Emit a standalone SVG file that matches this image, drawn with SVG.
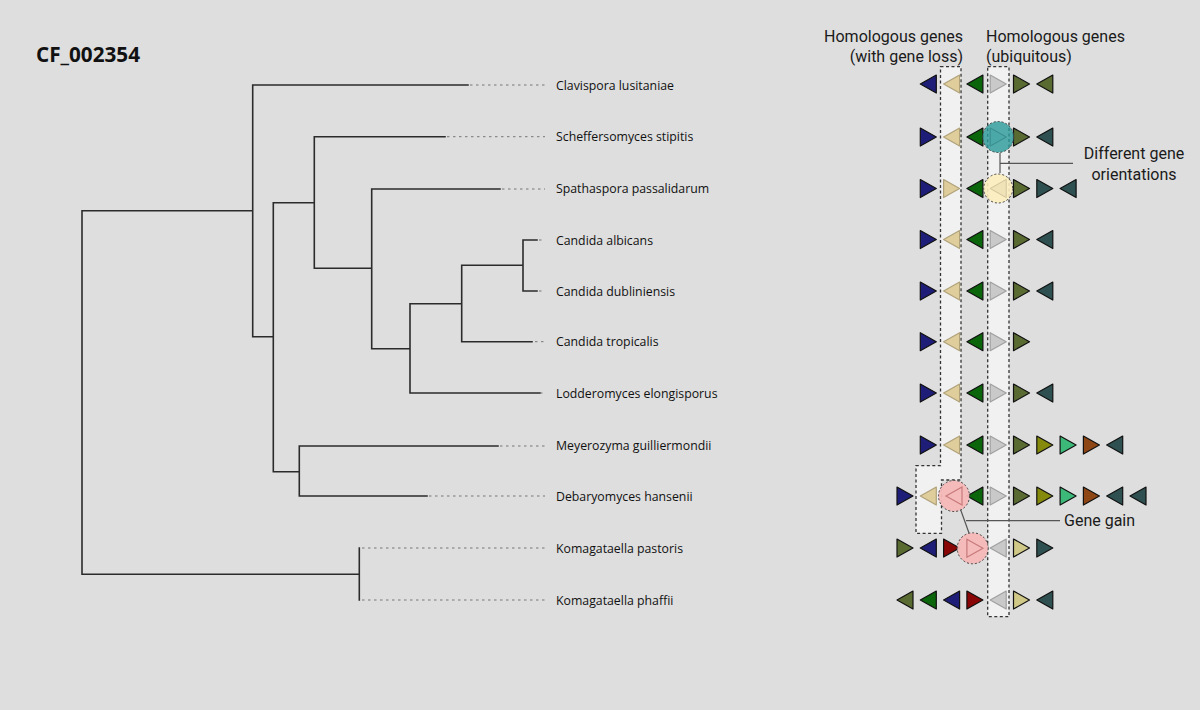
<svg xmlns="http://www.w3.org/2000/svg" width="1200" height="710" viewBox="0 0 1200 710">
<style>
.tree{fill:none;stroke:#2b2b2b;stroke-width:1.6;stroke-linecap:square}
.dot{fill:none;stroke:#777;stroke-width:1;stroke-dasharray:2.5 3.5}
.sp{font-family:"Open Sans","Noto Sans",sans-serif;font-size:12.3px;fill:#111}
.hd{font-family:Roboto,"Liberation Sans",sans-serif;font-size:16px;fill:#1a1a1a}
.t{stroke:#111;stroke-width:1.2;stroke-linejoin:round}
.bl{fill:#1e1e78}.tn{fill:#dfcd9c;stroke:#b0a27a}.gr{fill:#0b650b}.gy{fill:#c9c9c9;stroke:#a0a0a0}
.ol{fill:#5a6b32}.ds{fill:#2f5050}.yo{fill:#868a0c}.sg{fill:#3cb878}.br{fill:#8e4614}.dr{fill:#8a0505}.kh{fill:#cfc886}
.box{fill:#f1f1f1;stroke:#333;stroke-width:1.3;stroke-dasharray:3 2.5}
.circ{stroke:#444;stroke-width:1;stroke-dasharray:2 2}
.ann{fill:none;stroke:#555;stroke-width:1.2}
</style>
<defs>
<path id="R" d="M-8,-9 L8,0 L-8,9 Z"/>
<path id="L" d="M8,-9 L-8,0 L8,9 Z"/>
</defs>
<rect width="1200" height="710" fill="#dedede"/>
<text x="36" y="61.5" font-family="'Open Sans','Noto Sans',sans-serif" font-weight="bold" font-size="20.7" fill="#111">CF_002354</text>

<g id="connectors">
<path class="tree" d="M82,210.7 H252.7 M82,210.7 V574.3 H359.3 M252.7,85 V336.7 M252.7,85 H468 M252.7,336.7 H273.3 M273.3,202.7 V471.7 M273.3,202.7 H314.3 M273.3,471.7 H299.3 M314.3,136.7 V268.3 M314.3,136.7 H445 M314.3,268.3 H371.7 M371.7,189 V348.7 M371.7,189 H500 M371.7,348.7 H410 M410,303.7 V393 M410,303.7 H461.7 M410,393 H540 M461.7,265.3 V341.7 M461.7,265.3 H523 M461.7,341.7 H532 M523,240 V291 M523,240 H537 M523,291 H537 M299.3,446 V496 M299.3,446 H498 M299.3,496 H427 M359.3,548 V600"/>
<path class="dot" d="M470,85 H545 M447,136.7 H545 M502,189 H545 M539,240 H545 M539,291 H545 M535,341.7 H545 M540,393 H545 M500,446 H545 M429,496 H545 M362,548 H545 M362,600 H545"/>
</g>

<g id="labels">
<text class="sp" x="556" y="89.5">Clavispora lusitaniae</text>
<text class="sp" x="556" y="141">Scheffersomyces stipitis</text>
<text class="sp" x="556" y="193">Spathaspora passalidarum</text>
<text class="sp" x="556" y="244.5">Candida albicans</text>
<text class="sp" x="556" y="295.5">Candida dubliniensis</text>
<text class="sp" x="556" y="346">Candida tropicalis</text>
<text class="sp" x="556" y="397.5">Lodderomyces elongisporus</text>
<text class="sp" x="556" y="450">Meyerozyma guilliermondii</text>
<text class="sp" x="556" y="500.5">Debaryomyces hansenii</text>
<text class="sp" x="556" y="552.5">Komagataella pastoris</text>
<text class="sp" x="556" y="604.5">Komagataella phaffii</text>
</g>

<g id="headers">
<text class="hd" x="963" y="42" text-anchor="end">Homologous genes</text>
<text class="hd" x="963" y="61.5" text-anchor="end">(with gene loss)</text>
<text class="hd" x="986" y="42">Homologous genes</text>
<text class="hd" x="986" y="61.5">(ubiquitous)</text>
</g>

<g id="boxes">
<path class="box" d="M940.5,66.7 H961 V480 H941.5 V533.3 H916 V465.7 H940.5 Z"/>
<rect class="box" x="987.7" y="66.7" width="21.3" height="550"/>
</g>

<g id="row-clavispora">
<use href="#L" x="928.3" y="84" class="t bl"/><use href="#L" x="951.6" y="84" class="t tn"/><use href="#L" x="974.9" y="84" class="t gr"/><use href="#R" x="998.2" y="84" class="t gy"/><use href="#R" x="1021.5" y="84" class="t ol"/><use href="#L" x="1044.8" y="84" class="t ol"/>
</g>
<g id="row-scheffersomyces">
<use href="#R" x="928.3" y="137" class="t bl"/><use href="#L" x="951.6" y="137" class="t tn"/><use href="#L" x="974.9" y="137" class="t gr"/><use href="#R" x="998.2" y="137" class="t gy"/><use href="#R" x="1021.5" y="137" class="t ol"/><use href="#L" x="1044.8" y="137" class="t ds"/>
</g>
<g id="row-spathaspora">
<use href="#R" x="928.3" y="188.5" class="t bl"/><use href="#R" x="951.6" y="188.5" class="t tn"/><use href="#L" x="974.9" y="188.5" class="t gr"/><use href="#L" x="998.2" y="188.5" class="t gy"/><use href="#R" x="1021.5" y="188.5" class="t ol"/><use href="#R" x="1044.8" y="188.5" class="t ds"/><use href="#L" x="1068.1" y="188.5" class="t ds"/>
</g>
<g id="row-albicans">
<use href="#R" x="928.3" y="239.5" class="t bl"/><use href="#L" x="951.6" y="239.5" class="t tn"/><use href="#L" x="974.9" y="239.5" class="t gr"/><use href="#R" x="998.2" y="239.5" class="t gy"/><use href="#R" x="1021.5" y="239.5" class="t ol"/><use href="#L" x="1044.8" y="239.5" class="t ds"/>
</g>
<g id="row-dubliniensis">
<use href="#R" x="928.3" y="291" class="t bl"/><use href="#L" x="951.6" y="291" class="t tn"/><use href="#L" x="974.9" y="291" class="t gr"/><use href="#R" x="998.2" y="291" class="t gy"/><use href="#R" x="1021.5" y="291" class="t ol"/><use href="#L" x="1044.8" y="291" class="t ds"/>
</g>
<g id="row-tropicalis">
<use href="#R" x="928.3" y="341.7" class="t bl"/><use href="#L" x="951.6" y="341.7" class="t tn"/><use href="#L" x="974.9" y="341.7" class="t gr"/><use href="#R" x="998.2" y="341.7" class="t gy"/><use href="#R" x="1021.5" y="341.7" class="t ol"/>
</g>
<g id="row-lodderomyces">
<use href="#R" x="928.3" y="393" class="t bl"/><use href="#L" x="951.6" y="393" class="t tn"/><use href="#L" x="974.9" y="393" class="t gr"/><use href="#R" x="998.2" y="393" class="t gy"/><use href="#R" x="1021.5" y="393" class="t ol"/><use href="#L" x="1044.8" y="393" class="t ds"/>
</g>
<g id="row-meyerozyma">
<use href="#R" x="928.3" y="445" class="t bl"/><use href="#L" x="951.6" y="445" class="t tn"/><use href="#L" x="974.9" y="445" class="t gr"/><use href="#R" x="998.2" y="445" class="t gy"/><use href="#R" x="1021.5" y="445" class="t ol"/><use href="#R" x="1044.8" y="445" class="t yo"/><use href="#R" x="1068.1" y="445" class="t sg"/><use href="#R" x="1091.4" y="445" class="t br"/><use href="#L" x="1114.7" y="445" class="t ds"/>
</g>
<g id="row-debaryomyces">
<use href="#R" x="905" y="496" class="t bl"/><use href="#L" x="928.3" y="496" class="t tn"/><use href="#L" x="974.9" y="496" class="t gr"/><use href="#R" x="998.2" y="496" class="t gy"/><use href="#R" x="1021.5" y="496" class="t ol"/><use href="#R" x="1044.8" y="496" class="t yo"/><use href="#R" x="1068.1" y="496" class="t sg"/><use href="#R" x="1091.4" y="496" class="t br"/><use href="#L" x="1114.7" y="496" class="t ds"/><use href="#L" x="1138" y="496" class="t ds"/>
</g>
<g id="row-pastoris">
<use href="#R" x="905" y="548" class="t ol"/><use href="#L" x="928.3" y="548" class="t bl"/><use href="#R" x="951.6" y="548" class="t dr"/><use href="#L" x="998.2" y="548" class="t gy"/><use href="#R" x="1021.5" y="548" class="t kh"/><use href="#R" x="1044.8" y="548" class="t ds"/>
</g>
<g id="row-phaffii">
<use href="#L" x="905" y="600" class="t ol"/><use href="#L" x="928.3" y="600" class="t gr"/><use href="#L" x="951.6" y="600" class="t bl"/><use href="#R" x="974.9" y="600" class="t dr"/><use href="#L" x="998.2" y="600" class="t gy"/><use href="#R" x="1021.5" y="600" class="t kh"/><use href="#L" x="1044.8" y="600" class="t ds"/>
</g>

<g id="orientation-highlight">
<circle class="circ" cx="998.2" cy="137" r="15.5" fill="#2a9a9a" fill-opacity="0.8"/>
<use href="#R" x="998.2" y="137" fill="#4aa8a8" stroke="#3b8d8d" stroke-width="1"/>
<circle class="circ" cx="998.2" cy="188.5" r="14.5" fill="#fcedbd" fill-opacity="0.9"/>
<use href="#L" x="998.2" y="188.5" fill="#f1e3b8" stroke="#d3c59d" stroke-width="1"/>
<path class="ann" d="M1000,153 V173 M1000,163.3 H1073"/>
<text class="hd" x="1134" y="159" text-anchor="middle">Different gene</text>
<text class="hd" x="1134" y="179.5" text-anchor="middle">orientations</text>
</g>

<g id="gain-highlight">
<path class="ann" d="M960,508 L969,533 M966,520.7 H1060"/>
<circle class="circ" cx="954" cy="496" r="15.5" fill="#f6b8b8" fill-opacity="0.95"/>
<use href="#L" x="954" y="496" fill="none" stroke="#c77a7a" stroke-width="1.2"/>
<circle class="circ" cx="972.7" cy="548.3" r="15.5" fill="#f6b8b8" fill-opacity="0.95"/>
<use href="#R" x="974.9" y="548.3" fill="none" stroke="#c77a7a" stroke-width="1.2"/>
<text class="hd" x="1064" y="526">Gene gain</text>
</g>
</svg>
